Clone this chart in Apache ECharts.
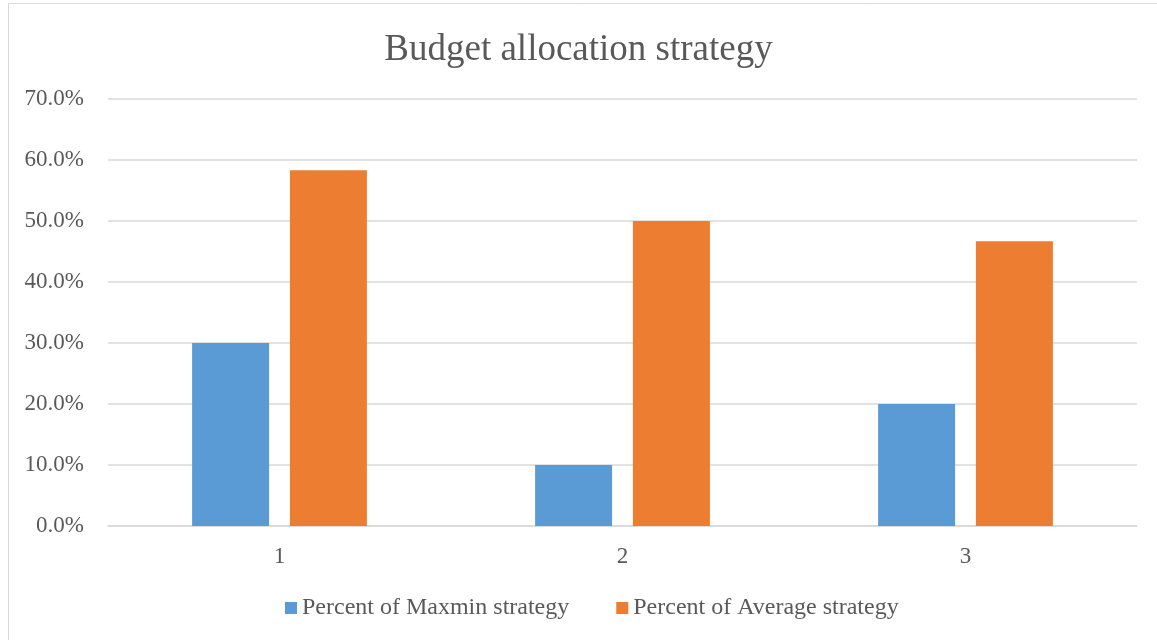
<!DOCTYPE html>
<html>
<head>
<meta charset="utf-8">
<script src="https://cdn.jsdelivr.net/npm/echarts@6/dist/echarts.min.js"></script>
<style>
html,body{margin:0;padding:0;background:#fff;}
#c{width:1157px;height:640px;}
</style>
</head>
<body>
<div id="c"></div>
<script>
const categories = ['1', '2', '3'];
const maxminValues = [30.0, 10.0, 20.0];
const averageValues = [58.3, 50.0, 46.7];
const seriesNames = ['Percent of Maxmin strategy', 'Percent of Average strategy'];

const FONT = '"Liberation Serif", "Times New Roman", serif';
const chart = echarts.init(document.getElementById('c'));
chart.setOption({
  backgroundColor: '#ffffff',
  animation: false,
  title: {
    text: 'Budget allocation strategy',
    left: 'center',
    top: 27,
    textStyle: {fontFamily: FONT, fontSize: 37, fontWeight: 'normal', color: '#595959'}
  },
  graphic: [{
    type: 'rect',
    shape: {x: 8.5, y: 3.5, width: 1200, height: 700},
    style: {fill: 'none', stroke: '#d9d9d9', lineWidth: 1},
    silent: true
  }],
  legend: {
    bottom: 20,
    left: 285,
    padding: 0,
    itemWidth: 12,
    itemHeight: 12,
    itemGap: 47,
    icon: 'rect',
    textStyle: {fontFamily: FONT, fontSize: 24, color: '#595959'},
    data: seriesNames
  },
  grid: {left: 108, right: 20, top: 99, bottom: 114, containLabel: false},
  xAxis: {
    type: 'category',
    data: categories,
    axisLine: {lineStyle: {color: '#d9d9d9', width: 1.5}},
    axisTick: {show: false},
    axisLabel: {fontFamily: FONT, fontSize: 23, color: '#595959', margin: 19}
  },
  yAxis: {
    type: 'value',
    min: 0,
    max: 70,
    interval: 10,
    axisLine: {show: false},
    axisTick: {show: false},
    splitLine: {lineStyle: {color: '#d9d9d9', width: 1.5}},
    axisLabel: {fontFamily: FONT, fontSize: 23, color: '#595959', margin: 24,
      formatter: v => v.toFixed(1) + '%'}
  },
  series: [
    {name: seriesNames[0], type: 'bar', data: maxminValues, barWidth: 77, barGap: '27%',
     itemStyle: {color: '#5b9bd5'}},
    {name: seriesNames[1], type: 'bar', data: averageValues, barWidth: 77,
     itemStyle: {color: '#ed7d31'}}
  ]
});
</script>
</body>
</html>
